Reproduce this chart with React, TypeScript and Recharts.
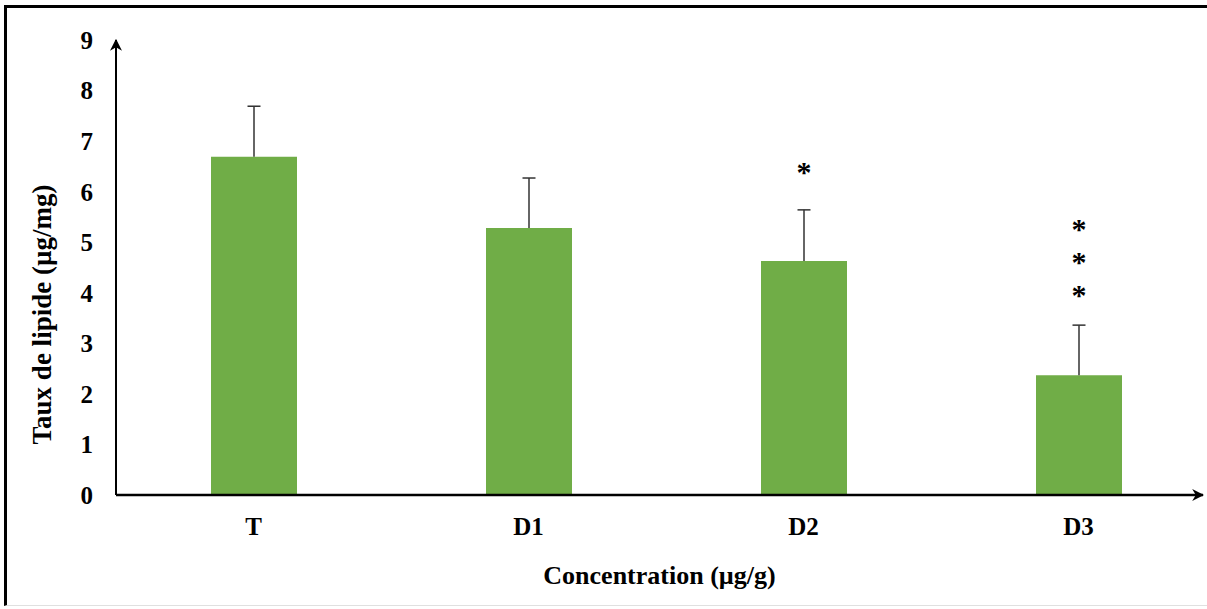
import { ComposedChart, Bar, XAxis, YAxis, LabelList } from 'recharts';

const categories = ['T', 'D1', 'D2', 'D3'];
const means = [6.69, 5.28, 4.63, 2.37];
const errors = [1.0, 0.99, 1.01, 0.99];
const stars = [0, 0, 1, 3];
const yTicks = [0, 1, 2, 3, 4, 5, 6, 7, 8, 9];

const data = categories.map((name, i) => ({
  name,
  value: means[i],
  stars: stars[i],
}));

const FONT = '"Liberation Serif", "Times New Roman", serif';

// error bar (upper half only, like Excel) + significance stars
const BarExtras = (props: any) => {
  const { x, y, width, height, index } = props;
  const perUnit = height / means[index];
  const errTop = y - errors[index] * perUnit;
  const cx = x + width / 2;
  const n = stars[index];
  const gap = n === 1 ? 28 : 20;
  const out = [];
  for (let k = 0; k < n; k++) {
    out.push(
      <text
        key={k}
        x={cx}
        y={errTop - gap - k * 33}
        textAnchor="middle"
        fontFamily={FONT}
        fontWeight="bold"
        fontSize={30}
        fill="#000"
      >
        *
      </text>
    );
  }
  return (
    <g>
      <line x1={cx} y1={y} x2={cx} y2={errTop} stroke="#333" strokeWidth={1.5} />
      <line x1={cx - 6.5} y1={errTop} x2={cx + 6.5} y2={errTop} stroke="#333" strokeWidth={1.5} />
      {out}
    </g>
  );
};

const YTitle = (props: any) => {
  const { viewBox } = props;
  const cx = viewBox.x + 42;
  const cy = viewBox.y + viewBox.height / 2 + 47;
  return (
    <text
      x={cx}
      y={cy}
      transform={`rotate(-90, ${cx}, ${cy})`}
      textAnchor="middle"
      dominantBaseline="central"
      fontFamily={FONT}
      fontWeight="bold"
      fontSize={27}
      fill="#000"
    >
      Taux de lipide (µg/mg)
    </text>
  );
};

const tickStyle = { fontFamily: FONT, fontWeight: 'bold', fontSize: 25, fill: '#000' };

export default function App() {
  return (
    <div style={{ position: 'relative', width: 1207, height: 609, overflow: 'hidden', background: '#fff' }}>
      <style>{'body{margin:0;overflow:hidden;}'}</style>
      <div
        style={{
          position: 'absolute',
          left: 4,
          top: 5,
          width: 1203,
          height: 601,
          borderLeft: '3px solid #000',
          borderTop: '3px solid #000',
          borderBottom: '1px solid #e0e0e0',
          boxSizing: 'border-box',
        }}
      />
      <div style={{ position: 'absolute', left: 0, top: 0 }}>
        <ComposedChart
          width={1207}
          height={609}
          data={data}
          margin={{ top: 40, right: 4, bottom: 0, left: 0 }}
        >
          <defs>
            <marker
              id="arrow"
              viewBox="0 0 10 10"
              refX="9"
              refY="5"
              markerWidth="12"
              markerHeight="12"
              markerUnits="userSpaceOnUse"
              orient="auto-start-reverse"
            >
              <path d="M0,0 L10,5 L0,10 L3,5 z" fill="#000" />
            </marker>
          </defs>
          <XAxis
            dataKey="name"
            height={114}
            padding={{ left: 0, right: -13 }}
            tickLine={false}
            tickSize={0}
            tickMargin={22}
            tick={tickStyle}
            axisLine={{ stroke: '#000', strokeWidth: 2.5, markerEnd: 'url(#arrow)' } as any}
            label={{
              value: 'Concentration (µg/g)',
              position: 'insideBottom',
              offset: 25,
              style: { fontFamily: FONT, fontWeight: 'bold', fontSize: 26, fill: '#000' },
            }}
          />
          <YAxis
            width={116}
            domain={[0, 9]}
            ticks={yTicks}
            interval={0}
            tickLine={false}
            tickSize={0}
            tickMargin={23}
            tick={tickStyle}
            axisLine={{ stroke: '#000', strokeWidth: 2, markerStart: 'url(#arrow)' } as any}
            label={<YTitle />}
          />
          <Bar dataKey="value" fill="#70AD47" barSize={86} isAnimationActive={false}>
            <LabelList dataKey="stars" content={<BarExtras />} />
          </Bar>
        </ComposedChart>
      </div>
    </div>
  );
}
